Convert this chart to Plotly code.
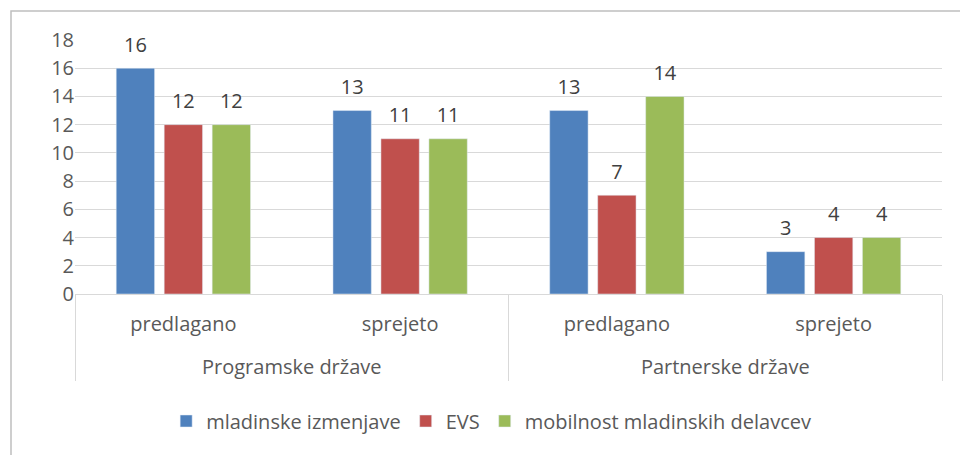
import plotly.graph_objects as go

groups = ["<br>Programske države", "<br>Programske države", "<br>Partnerske države", "<br>Partnerske države"]
stages = ["predlagano", "sprejeto", "predlagano", "sprejeto"]
series_names = ["mladinske izmenjave", "EVS", "mobilnost mladinskih delavcev"]
blue_vals = [16, 13, 13, 3]
red_vals = [12, 11, 7, 4]
green_vals = [12, 11, 14, 4]
colors = ["#4f81bd", "#c0504d", "#9bbb59"]
y_ticks = [0, 2, 4, 6, 8, 10, 12, 14, 16, 18]

FONT = "Open Sans"
FS = 20
fig = go.Figure()
for i, (name, vals, col) in enumerate(zip(series_names, [blue_vals, red_vals, green_vals], colors)):
    fig.add_trace(go.Bar(
        x=[groups, stages], y=vals, name=name, marker_color=col,
        offsetgroup=str(i), hoverinfo="y",
    ))
for i, (name, vals) in enumerate(zip(series_names, [blue_vals, red_vals, green_vals])):
    fig.add_trace(go.Scatter(
        x=[groups, stages], y=vals, name=name, mode="markers+text",
        offsetgroup=str(i), showlegend=False, hoverinfo="skip",
        marker=dict(size=17, color="rgba(0,0,0,0)"),
        text=vals, textposition="top center",
        textfont=dict(color="#404040", size=FS, family=FONT),
        cliponaxis=False,
    ))

fig.update_layout(
    width=960, height=455,
    margin=dict(l=75, r=18, t=40, b=161),
    paper_bgcolor="white", plot_bgcolor="white",
    bargap=0.336, bargroupgap=0.2,
    scattermode="group", scattergap=0.336,
    font=dict(family=FONT, color="#595959", size=FS),
    legend=dict(orientation="h", x=0.48, xanchor="center", y=-0.5, yanchor="middle",
                font=dict(size=FS, color="#595959"), traceorder="normal",
                itemwidth=30, tracegroupgap=0),
    showlegend=True,
    yaxis=dict(range=[0, 18], tickvals=y_ticks, showgrid=True, gridcolor="#d9d9d9",
               gridwidth=1, zeroline=False, showline=False, ticks="",
               tickfont=dict(size=FS, color="#595959"), fixedrange=True),
    xaxis=dict(showline=True, linecolor="#d9d9d9", linewidth=1, ticks="",
               showdividers=True, dividercolor="#d9d9d9", dividerwidth=1,
               ticklabelstandoff=12,
               tickfont=dict(size=FS, color="#595959")),
    shapes=[dict(type="rect", xref="paper", yref="paper",
                 x0=(11 - 75) / 867, x1=(965 - 75) / 867,
                 y0=-0.66, y1=1 + 29 / 254,
                 line=dict(color="#bfbfbf", width=1.5), layer="below")],
)

fig.write_html("out.html", config={"displayModeBar": False},
               post_script="document.body.style.margin='0';")
